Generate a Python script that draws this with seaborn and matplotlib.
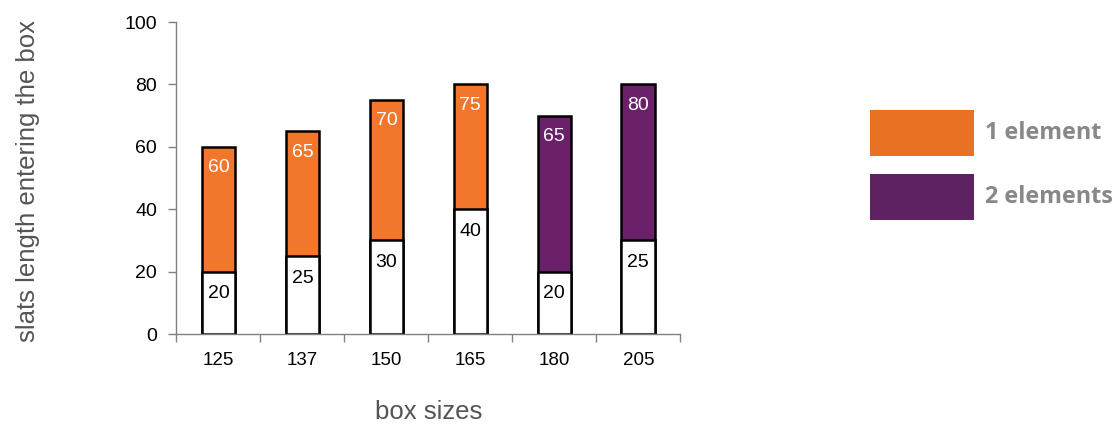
import matplotlib
matplotlib.use("Agg")
import matplotlib.pyplot as plt
from matplotlib.patches import Rectangle
import seaborn as sns
import pandas as pd

# Chart data
box_sizes = ["125", "137", "150", "165", "180", "205"]
bar_totals = [60, 65, 75, 80, 70, 80]
white_heights = [20, 25, 30, 40, 20, 30]
top_labels = ["60", "65", "70", "75", "65", "80"]
bottom_labels = ["20", "25", "30", "40", "20", "25"]
element_counts = [1, 1, 1, 1, 2, 2]
legend_names = ["1 element", "2 elements"]

orange = "#F2762B"
purple = "#6B2169"
bar_colors = [orange if n == 1 else purple for n in element_counts]

df = pd.DataFrame({"size": box_sizes, "total": bar_totals, "white": white_heights})

sns.set_style("white")
plt.rcParams["font.family"] = ["Liberation Sans", "DejaVu Sans"]

fig = plt.figure(figsize=(11.17, 4.25), dpi=100)
ax = fig.add_axes([0.158, 0.214, 0.451, 0.734])

# Coloured full bars, then white lower segments drawn over them
sns.barplot(data=df, x="size", y="total", hue="size", palette=bar_colors,
            saturation=1, legend=False, width=0.4, edgecolor="black",
            linewidth=1.8, ax=ax)
sns.barplot(data=df, x="size", y="white", color="white", saturation=1,
            width=0.4, edgecolor="black", linewidth=1.8, ax=ax)

# Value labels just below the top of each segment
for i in range(len(box_sizes)):
    ax.annotate(top_labels[i], (i, bar_totals[i]), xytext=(0, -15),
                textcoords="offset points", ha="center", va="center",
                color="white", fontsize=14)
    ax.annotate(bottom_labels[i], (i, white_heights[i]), xytext=(0, -16),
                textcoords="offset points", ha="center", va="center",
                color="black", fontsize=14)

ax.set_ylim(0, 100)
ax.set_xlim(-0.5, len(box_sizes) - 0.5)
ax.set_yticks([0, 20, 40, 60, 80, 100])

# Tick marks sit between categories on the x axis
ax.set_xticks([i - 0.5 for i in range(len(box_sizes) + 1)], minor=True)
ax.tick_params(axis="x", which="major", length=0, pad=13, labelsize=13.5,
               labelcolor="black")
ax.tick_params(axis="x", which="minor", length=6, width=1, color="#808080",
               direction="out", bottom=True)
ax.tick_params(axis="y", length=6, width=1, color="#808080", direction="out",
               left=True, labelsize=14, pad=8, labelcolor="black")

for side in ["top", "right"]:
    ax.spines[side].set_visible(False)
for side in ["left", "bottom"]:
    ax.spines[side].set_color("#808080")
    ax.spines[side].set_linewidth(1)

ax.set_xlabel("box sizes", fontsize=18.5, color="#555555")
ax.set_ylabel("slats length entering the box", fontsize=18.5, color="#555555")
ax.xaxis.set_label_coords(0.5, -0.21)
ax.yaxis.set_label_coords(-0.27, 0.49)

# Legend swatches on the right
for k, (name, col) in enumerate(zip(legend_names, ["#E87124", "#5E2262"])):
    y0 = (425 - 156 - k * 64) / 425
    fig.add_artist(Rectangle((870 / 1117, y0), 104 / 1117, 46 / 425,
                             transform=fig.transFigure, color=col, lw=0))
    fig.text(985 / 1117, y0 + 23 / 425, name, fontsize=16.8, fontweight="bold",
             color="#888888", va="center", ha="left",
             family=["Open Sans", "DejaVu Sans"])

fig.savefig("out.png", dpi=100)
